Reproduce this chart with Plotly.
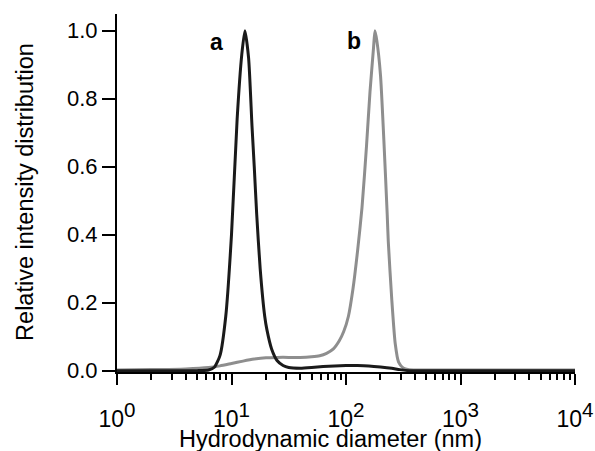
import plotly.graph_objects as go

# Sample a (black): hydrodynamic diameter (nm) and relative intensity
diam_a = [1.0, 5.0, 6.31, 7.08, 7.94, 8.91, 10.0, 11.2, 12.3, 13.1, 14.1, 15.1, 15.8,
          16.6, 17.8, 19.5, 20.4, 22.4, 25.1, 28.2, 31.6, 39.8, 50.1, 63.1, 79.4,
          100, 126, 158, 200, 251, 295, 355, 1000, 10000]
int_a = [0.0, 0.0, 0.002, 0.010, 0.045, 0.16, 0.40, 0.74, 0.93, 1.00, 0.92, 0.72, 0.60,
         0.46, 0.30, 0.16, 0.12, 0.064, 0.029, 0.015, 0.009, 0.007, 0.009, 0.012, 0.014,
         0.015, 0.015, 0.014, 0.011, 0.007, 0.003, 0.0, 0.0, 0.0]

# Sample b (grey)
diam_b = [1.0, 2.0, 3.98, 6.31, 7.94, 10.0, 12.6, 15.8, 20.0, 25.1, 31.6, 39.8, 50.1,
          58.9, 67.6, 77.6, 87.1, 95.5, 105, 115, 126, 138, 151, 162, 174, 179, 186,
          200, 214, 229, 234, 251, 269, 288, 316, 355, 501, 1000, 10000]
int_b = [0.002, 0.003, 0.005, 0.009, 0.014, 0.021, 0.028, 0.034, 0.038, 0.039, 0.039, 0.039, 0.041,
         0.044, 0.051, 0.064, 0.087, 0.115, 0.160, 0.240, 0.350, 0.48, 0.66, 0.82, 0.95, 1.00, 0.97,
         0.87, 0.68, 0.46, 0.38, 0.21, 0.08, 0.025, 0.008, 0.003, 0.002, 0.002, 0.002]

x_tickvals = [1, 10, 100, 1000, 10000]
x_tick_exponents = ["0", "1", "2", "3", "4"]
x_ticktext = ['10<sup><span style="font-size:128%">' + e + '</span></sup>' for e in x_tick_exponents]
y_tickvals = [0.0, 0.2, 0.4, 0.6, 0.8, 1.0]
y_ticktext = ["0.0", "0.2", "0.4", "0.6", "0.8", "1.0"]

FONT = "Liberation Sans, Arial, sans-serif"

fig = go.Figure()
fig.add_trace(go.Scatter(x=diam_b, y=int_b, mode="lines",
                         line=dict(color="#8e8e8e", width=3, shape="spline", smoothing=0.6),
                         showlegend=False))
fig.add_trace(go.Scatter(x=diam_a, y=int_a, mode="lines",
                         line=dict(color="#1a1a1a", width=3, shape="spline", smoothing=0.6),
                         showlegend=False))

fig.update_layout(
    width=595, height=451,
    margin=dict(l=117, r=20, t=14, b=79, autoexpand=False),
    paper_bgcolor="white", plot_bgcolor="white",
    font=dict(family=FONT, size=22, color="black"),
    xaxis=dict(type="log", range=[0, 4], showgrid=False, zeroline=False, automargin=False,
               showline=True, linecolor="black", linewidth=2, layer="below traces",
               ticks="outside", ticklen=11, tickwidth=2, tickcolor="black",
               tickmode="array", tickvals=x_tickvals, ticktext=x_ticktext,
               ticklabelstandoff=14,
               tickfont=dict(family=FONT, size=23),
               minor=dict(ticks="outside", ticklen=6, tickwidth=1.5, tickcolor="black",
                          dtick="D1", showgrid=False)),
    yaxis=dict(range=[-0.004, 1.049], showgrid=False, zeroline=False, automargin=False,
               showline=True, linecolor="black", linewidth=2, layer="below traces",
               ticks="outside", ticklen=13, tickwidth=2, tickcolor="black",
               tickmode="array", tickvals=y_tickvals, ticktext=y_ticktext,
               tickfont=dict(family=FONT, size=22)),
    annotations=[
        dict(text="Relative intensity distribution", xref="paper", yref="paper",
             x=-0.2009, y=0.503, textangle=-90, showarrow=False,
             xanchor="center", yanchor="middle", font=dict(family=FONT, size=23.5)),
        dict(text="Hydrodynamic diameter (nm)", xref="paper", yref="paper",
             x=0.467, y=-0.188, showarrow=False,
             xanchor="center", yanchor="middle", font=dict(family=FONT, size=23.5)),
        dict(text="<b>a</b>", xref="paper", yref="paper", x=0.218, y=0.922,
             showarrow=False, xanchor="center", yanchor="middle",
             font=dict(family=FONT, size=23)),
        dict(text="<b>b</b>", xref="paper", yref="paper", x=0.518, y=0.924,
             showarrow=False, xanchor="center", yanchor="middle",
             font=dict(family=FONT, size=23)),
    ],
)

fig.write_html("out.html")
